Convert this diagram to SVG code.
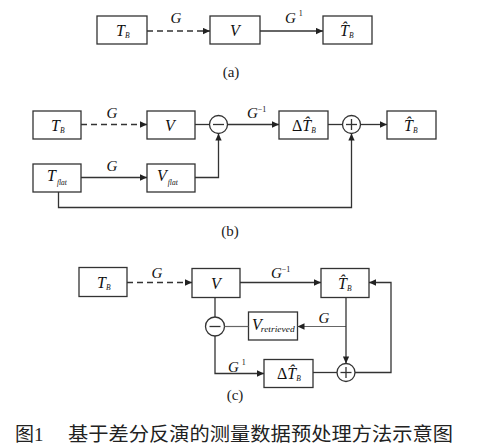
<svg xmlns="http://www.w3.org/2000/svg" width="477" height="448" viewBox="0 0 477 448">
<defs>
<marker id="ah" viewBox="0 0 10 10" refX="10" refY="5" markerWidth="8" markerHeight="7" markerUnits="userSpaceOnUse" orient="auto"><path d="M0,0.5 L10,5 L0,9.5 z" fill="#222"/></marker>
<style>
.box{fill:#fff;stroke:#333;stroke-width:1.3}
.ln{fill:none;stroke:#333;stroke-width:1.3}
.lg{fill:none;stroke:#666;stroke-width:1.2}
.ds{stroke-dasharray:6,4}
.t{font-family:"Liberation Serif","Times New Roman",serif;font-style:italic;font-size:15px;fill:#111}
.m{text-anchor:middle}
.b{font-size:16px}
.s{font-size:7.5px}
.u{font-style:normal}
.c{font-family:"Liberation Serif","Times New Roman",serif;font-size:15px;fill:#222;text-anchor:middle}
.cap{font-family:"Liberation Serif","Noto Sans CJK SC",serif;font-size:19px;fill:#222}
</style>
</defs>
<rect width="477" height="448" fill="#fff"/>

<!-- (a) -->
<g id="a_TB"><rect class="box" x="97" y="16" width="50" height="28"/><text class="t b" x="116" y="36">T<tspan class="s" dy="1.5">B</tspan></text></g>
<g id="a_V"><rect class="box" x="210" y="16" width="50" height="28"/><text class="t b m" x="235" y="36">V</text></g>
<g id="a_That"><rect class="box" x="323" y="16" width="49" height="28"/><text class="t b" x="340" y="36">T̂<tspan class="s" dy="1.5">B</tspan></text></g>
<g id="a_conn">
<line class="ln ds" x1="147" y1="31" x2="210" y2="31" marker-end="url(#ah)"/>
<text class="t m" x="176" y="22.5">G</text>
<line class="ln" x1="260" y1="31" x2="323" y2="31" marker-end="url(#ah)"/>
<text class="t" x="285" y="22.5">G<tspan class="s u" dx="3" dy="-7" style="font-size:8px">1</tspan></text>
</g>
<text class="c" x="231" y="77">(a)</text>

<!-- (b) -->
<g id="b_TB"><rect class="box" x="33" y="111" width="48" height="28"/><text class="t b" x="51" y="131">T<tspan class="s" dy="1.5">B</tspan></text></g>
<g id="b_V"><rect class="box" x="147" y="111" width="48" height="28"/><text class="t b m" x="170" y="131">V</text></g>
<g id="b_minus"><circle class="ln" cx="218.5" cy="124.5" r="9" fill="#fff"/><line class="ln" x1="213" y1="124.5" x2="224" y2="124.5"/></g>
<g id="b_dT"><rect class="box" x="279" y="111" width="49" height="28"/><text class="t b" x="292" y="131"><tspan class="u">Δ</tspan>T̂<tspan class="s" dy="1.5">B</tspan></text></g>
<g id="b_plus"><circle class="ln" cx="351.5" cy="124.5" r="9" fill="#fff"/><line class="ln" x1="346" y1="124.5" x2="357" y2="124.5"/><line class="ln" x1="351.5" y1="119" x2="351.5" y2="130"/></g>
<g id="b_That"><rect class="box" x="387" y="111" width="49" height="28"/><text class="t b" x="404" y="131">T̂<tspan class="s" dy="1.5">B</tspan></text></g>
<g id="b_Tflat"><rect class="box" x="33" y="164" width="48" height="28"/><text class="t b" x="47" y="181">T<tspan class="s" dx="1" dy="4">flat</tspan></text></g>
<g id="b_Vflat"><rect class="box" x="147" y="164" width="48" height="28"/><text class="t b" x="157" y="181">V<tspan class="s" dx="1" dy="4">flat</tspan></text></g>
<g id="b_conn">
<line class="ln ds" x1="81" y1="124.5" x2="147" y2="124.5" marker-end="url(#ah)"/>
<text class="t m" x="112" y="118">G</text>
<line class="ln" x1="195" y1="124.5" x2="209.5" y2="124.5"/>
<line class="ln" x1="227.5" y1="124.5" x2="279" y2="124.5" marker-end="url(#ah)"/>
<text class="t" x="247" y="118">G<tspan class="s u" dy="-6" style="font-size:8px">−1</tspan></text>
<line class="ln" x1="328" y1="124.5" x2="342.5" y2="124.5"/>
<line class="ln" x1="360.5" y1="124.5" x2="387" y2="124.5" marker-end="url(#ah)"/>
<line class="ln" x1="81" y1="177.5" x2="147" y2="177.5" marker-end="url(#ah)"/>
<text class="t m" x="112" y="171">G</text>
<polyline class="ln" points="195,177.5 218.5,177.5 218.5,133.5" marker-end="url(#ah)"/>
<polyline class="ln" points="58.5,192 58.5,207.5 351.5,207.5 351.5,133.5" marker-end="url(#ah)"/>
</g>
<text class="c" x="230" y="236">(b)</text>

<!-- (c) -->
<g id="c_TB"><rect class="box" x="79" y="267.5" width="48" height="29"/><text class="t b" x="97" y="288">T<tspan class="s" dy="1.5">B</tspan></text></g>
<g id="c_V"><rect class="box" x="192" y="268.5" width="48" height="29"/><text class="t b m" x="216" y="289">V</text></g>
<g id="c_That"><rect class="box" x="321" y="268.5" width="48" height="29"/><text class="t b" x="338" y="289">T̂<tspan class="s" dy="1.5">B</tspan></text></g>
<g id="c_minus"><circle class="ln" cx="215" cy="326.5" r="9.5" fill="#fff"/><line class="ln" x1="209.5" y1="326.5" x2="220.5" y2="326.5"/></g>
<g id="c_Vret"><rect class="box" x="248.5" y="312" width="49" height="28"/><text class="t b" x="252" y="330">V<tspan class="s" dx="-1" dy="2" textLength="34" lengthAdjust="spacingAndGlyphs">retrieved</tspan></text></g>
<g id="c_dT"><rect class="box" x="264" y="359.5" width="49" height="28"/><text class="t b" x="277" y="379"><tspan class="u">Δ</tspan>T̂<tspan class="s" dy="1.5">B</tspan></text></g>
<g id="c_plus"><circle class="ln" cx="346" cy="372.5" r="9" fill="#fff"/><line class="ln" x1="340.5" y1="372.5" x2="351.5" y2="372.5"/><line class="ln" x1="346" y1="367" x2="346" y2="378"/></g>
<g id="c_conn">
<line class="ln ds" x1="127" y1="282.5" x2="192" y2="282.5" marker-end="url(#ah)"/>
<text class="t m" x="157" y="278">G</text>
<line class="ln" x1="240" y1="282.5" x2="321" y2="282.5" marker-end="url(#ah)"/>
<text class="t" x="271" y="278">G<tspan class="s u" dy="-6" style="font-size:8px">−1</tspan></text>
<line class="ln" x1="215" y1="297.5" x2="215" y2="317"/>
<line class="lg" x1="224.5" y1="326.5" x2="248.5" y2="326.5"/>
<line class="lg" x1="346" y1="326.5" x2="297.5" y2="326.5" marker-end="url(#ah)"/>
<text class="t m" x="324" y="323">G</text>
<line class="ln" x1="346" y1="297.5" x2="346" y2="363.5" marker-end="url(#ah)"/>
<polyline class="ln" points="215,336 215,373.5 264,373.5" marker-end="url(#ah)"/>
<text class="t" x="228" y="372">G<tspan class="s u" dx="3" dy="-7" style="font-size:8px">1</tspan></text>
<line class="ln" x1="313" y1="372.5" x2="337" y2="372.5"/>
<polyline class="ln" points="355,372.5 391,372.5 391,282.5 369,282.5" marker-end="url(#ah)"/>
</g>
<text class="c" x="235" y="400">(c)</text>

<text class="cap" x="15" y="441">图<tspan font-family="Liberation Serif">1</tspan></text>
<text class="cap" x="68" y="441" textLength="385" lengthAdjust="spacingAndGlyphs">基于差分反演的测量数据预处理方法示意图</text>
</svg>
